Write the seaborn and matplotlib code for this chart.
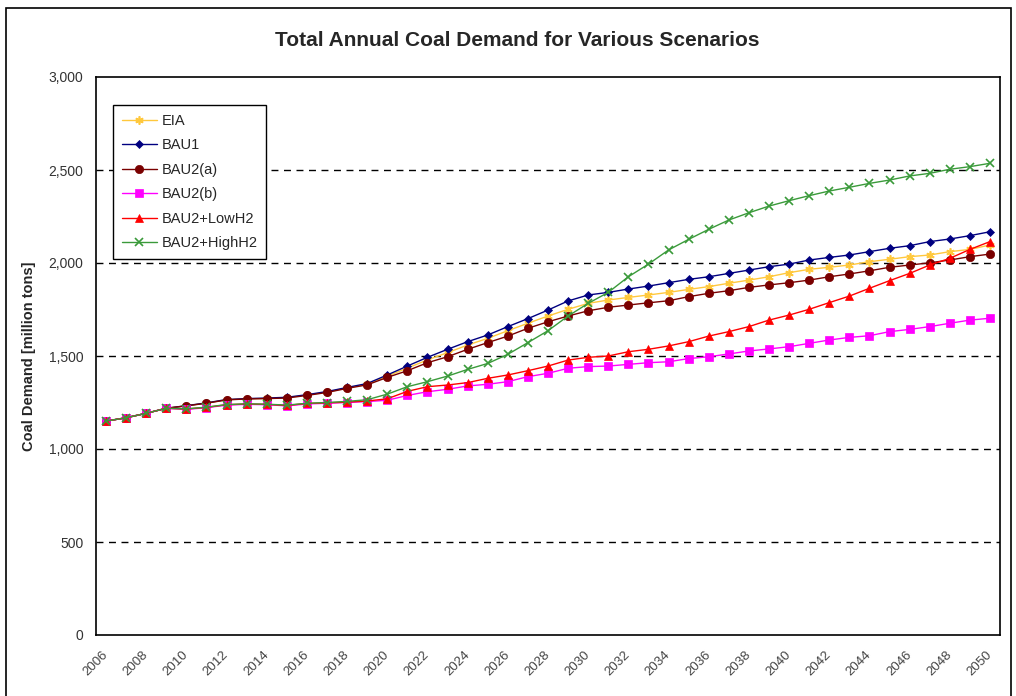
import numpy as np
import pandas as pd
import seaborn as sns
import matplotlib.pyplot as plt
from matplotlib.patches import Rectangle

years = list(range(2006, 2051))

eia = [1150, 1168, 1192, 1219, 1232, 1247, 1265, 1270, 1272, 1276, 1290, 1306, 1328, 1348,
       1392, 1435, 1479, 1518, 1559, 1595, 1636, 1676, 1715, 1751,
       1783, 1801, 1815, 1828, 1842, 1858, 1873, 1891, 1908, 1926,
       1948, 1966, 1977, 1989, 2007, 2020, 2034, 2043, 2061, 2073, 2097]
bau1 = [1150, 1168, 1192, 1219, 1233, 1248, 1266, 1271, 1274, 1278, 1292, 1309, 1331, 1352,
        1398, 1446, 1493, 1536, 1577, 1613, 1658, 1701, 1747, 1796,
        1828, 1842, 1860, 1876, 1894, 1912, 1926, 1944, 1962, 1980,
        1994, 2016, 2030, 2043, 2061, 2079, 2093, 2115, 2129, 2147, 2168]
bau2a = [1150, 1168, 1192, 1219, 1232, 1246, 1264, 1269, 1271, 1274, 1288, 1304, 1326, 1345,
         1385, 1421, 1464, 1496, 1536, 1572, 1607, 1649, 1684, 1715,
         1743, 1762, 1774, 1786, 1797, 1819, 1837, 1851, 1869, 1882,
         1894, 1908, 1926, 1941, 1958, 1977, 1989, 2001, 2016, 2034, 2048]
bau2b = [1150, 1168, 1192, 1219, 1213, 1222, 1236, 1240, 1238, 1232, 1242, 1246, 1250, 1255,
         1262, 1288, 1308, 1321, 1339, 1348, 1362, 1389, 1407, 1434,
         1443, 1446, 1455, 1464, 1469, 1486, 1496, 1511, 1527, 1538,
         1550, 1568, 1586, 1600, 1609, 1631, 1643, 1658, 1676, 1693, 1703]
low_h2 = [1150, 1168, 1192, 1219, 1215, 1224, 1238, 1242, 1240, 1234, 1245, 1248, 1252, 1258,
          1270, 1310, 1335, 1344, 1357, 1380, 1398, 1421, 1446, 1478,
          1493, 1500, 1523, 1536, 1554, 1577, 1607, 1631, 1658, 1693,
          1720, 1751, 1787, 1822, 1864, 1905, 1944, 1989, 2025, 2073, 2115]
high_h2 = [1150, 1168, 1192, 1219, 1216, 1225, 1239, 1243, 1241, 1236, 1246, 1250, 1256, 1265,
           1295, 1335, 1362, 1392, 1428, 1460, 1509, 1572, 1636, 1715,
           1783, 1842, 1926, 1994, 2070, 2127, 2181, 2231, 2270, 2306,
           2335, 2362, 2387, 2407, 2428, 2446, 2468, 2482, 2504, 2518, 2536]

series = {
    "EIA": eia,
    "BAU1": bau1,
    "BAU2(a)": bau2a,
    "BAU2(b)": bau2b,
    "BAU2+LowH2": low_h2,
    "BAU2+HighH2": high_h2,
}
styles = {
    "EIA": dict(color="#FFC83C", marker=(6, 2, 0), ms=6, mew=1.2),
    "BAU1": dict(color="#000080", marker="D", ms=4.5, mew=0.5),
    "BAU2(a)": dict(color="#7A0000", marker="o", ms=6, mew=0.5),
    "BAU2(b)": dict(color="#FF00FF", marker="s", ms=6, mew=0.5),
    "BAU2+LowH2": dict(color="#FF0000", marker="^", ms=6, mew=0.5),
    "BAU2+HighH2": dict(color="#3A9A3A", marker="x", ms=6, mew=1.2),
}

sns.set_style("white")
plt.rcParams["font.family"] = ["Liberation Sans", "DejaVu Sans"]

fig = plt.figure(figsize=(10.16, 6.96), dpi=100)
ax = fig.add_axes([96 / 1016, 1 - 635 / 696, 904 / 1016, 558 / 696])

for name, vals in series.items():
    st = styles[name]
    df = pd.DataFrame({"year": years, "value": vals})
    sns.lineplot(data=df, x="year", y="value", ax=ax, color=st["color"], lw=1.0,
                 marker=st["marker"], markersize=st["ms"], markeredgewidth=st["mew"],
                 markeredgecolor=st["color"], label=name)

ax.set_xlim(2005.5, 2050.5)
ax.set_ylim(0, 3000)
ax.set_yticks(np.arange(0, 3001, 500))
ax.set_yticklabels([f"{v:,}" for v in range(0, 3001, 500)], fontsize=10, color="#333333")
for v in range(500, 3000, 500):
    ax.axhline(v, color="black", ls=(0, (5, 4)), lw=1.0, zorder=0)

ax.set_xticks(years[::2])
ax.set_xticklabels([str(y) for y in years[::2]], rotation=45, ha="right",
                   rotation_mode="anchor", va="center", fontsize=9.5, color="#444444")
ax.set_xticks(np.arange(2005.5, 2051, 1), minor=True)
ax.tick_params(axis="x", which="major", length=0, pad=13)
ax.tick_params(axis="x", which="minor", length=5, width=1, direction="out", color="black")
ax.tick_params(axis="y", length=5, width=1, direction="out", color="black", pad=4)

for sp in ax.spines.values():
    sp.set_color("black")
    sp.set_linewidth(1.2)

ax.set_xlabel("")
ax.set_ylabel("Coal Demand [million tons]", fontsize=10.5, fontweight="bold", labelpad=9)

fig.text(517 / 1016, 1 - 41 / 696, "Total Annual Coal Demand for Various Scenarios",
         ha="center", va="center", fontsize=15, fontweight="bold")

leg = ax.legend(loc="upper left", bbox_to_anchor=(0.019, 0.95), borderaxespad=0,
                fontsize=10.5, frameon=True, fancybox=False, framealpha=1,
                edgecolor="black", handlelength=2.4, labelspacing=0.72,
                borderpad=0.6, handletextpad=0.3)
leg.get_frame().set_linewidth(1.0)

fig.patches.append(Rectangle((6 / 1016, -0.02), 1005 / 1016, 1.02 - 8 / 696,
                             transform=fig.transFigure, fill=False,
                             edgecolor="black", lw=1.2))

fig.savefig("out.png", dpi=100)
